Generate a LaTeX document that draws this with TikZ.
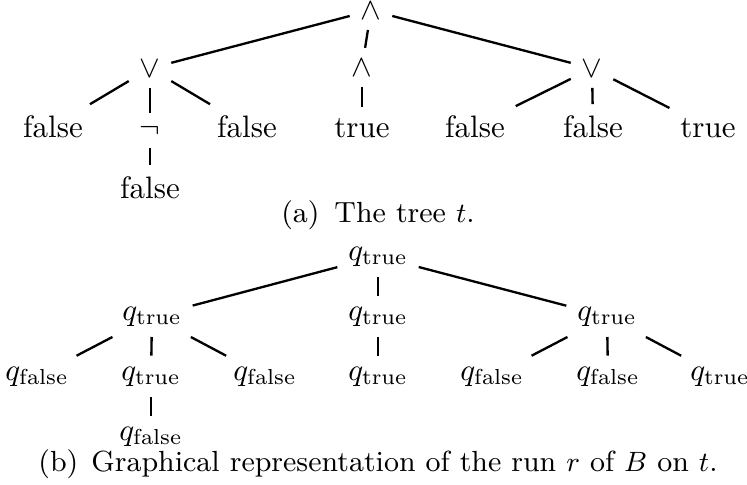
\documentclass[tikz,border=0pt]{standalone}
\begin{document}
\begin{tikzpicture}[x=0.3226pt,y=-0.3226pt,
  tn/.style={anchor=base},
  captext/.style={anchor=base,font=\fontsize{9.4}{11}\selectfont},
  edge/.style={line width=0.75pt}]
\useasboundingbox (0,0) rectangle (747,484);
% tree t
\node[tn] (r) at (371,19) {$\wedge$};
\node[tn] (a) at (150,77) {$\vee$};
\node[tn] (b) at (362,76) {$\wedge$};
\node[tn] (c) at (592,77) {$\vee$};
\node[tn] (a1) at (53,137) {false};
\node[tn] (a2) at (150,137) {$\neg$};
\node[tn] (a3) at (247,137) {false};
\node[tn] (b1) at (362,137) {true};
\node[tn] (c1) at (475,137) {false};
\node[tn] (c2) at (593,137) {false};
\node[tn] (c3) at (708,137) {true};
\node[tn] (a21) at (150,198) {false};
\draw[edge] (r) -- (a);
\draw[edge] (r) -- (b);
\draw[edge] (r) -- (c);
\draw[edge] (a) -- (a1);
\draw[edge] (a) -- (a2);
\draw[edge] (a) -- (a3);
\draw[edge] (a2) -- (a21);
\draw[edge] (b) -- (b1);
\draw[edge] (c) -- (c1);
\draw[edge] (c) -- (c2);
\draw[edge] (c) -- (c3);
\node[captext] (capa) at (378,222) {(a)\hspace{4.8pt}The tree $t$.};
% run r
\node[tn] (R) at (378,260) {$q_{\mathrm{true}}$};
\node[tn] (L) at (152,320) {$q_{\mathrm{true}}$};
\node[tn] (M) at (378,320) {$q_{\mathrm{true}}$};
\node[tn] (T) at (607,320) {$q_{\mathrm{true}}$};
\node[tn] (L1) at (37,380) {$q_{\mathrm{false}}$};
\node[tn] (L2) at (151,380) {$q_{\mathrm{true}}$};
\node[tn] (L3) at (265,380) {$q_{\mathrm{false}}$};
\node[tn] (M1) at (378,380) {$q_{\mathrm{true}}$};
\node[tn] (T1) at (492,380) {$q_{\mathrm{false}}$};
\node[tn] (T2) at (608,380) {$q_{\mathrm{false}}$};
\node[tn] (T3) at (720,380) {$q_{\mathrm{true}}$};
\node[tn] (L21) at (151,440) {$q_{\mathrm{false}}$};
\draw[edge] (R) -- (L);
\draw[edge] (R) -- (M);
\draw[edge] (R) -- (T);
\draw[edge] (L) -- (L1);
\draw[edge] (L) -- (L2);
\draw[edge] (L) -- (L3);
\draw[edge] (L2) -- (L21);
\draw[edge] (M) -- (M1);
\draw[edge] (T) -- (T1);
\draw[edge] (T) -- (T2);
\draw[edge] (T) -- (T3);
\node[captext] (capb) at (378,471) {(b)\hspace{4.2pt}Graphical representation of the run $r$ of $B$ on $t$.};
\end{tikzpicture}
\end{document}
